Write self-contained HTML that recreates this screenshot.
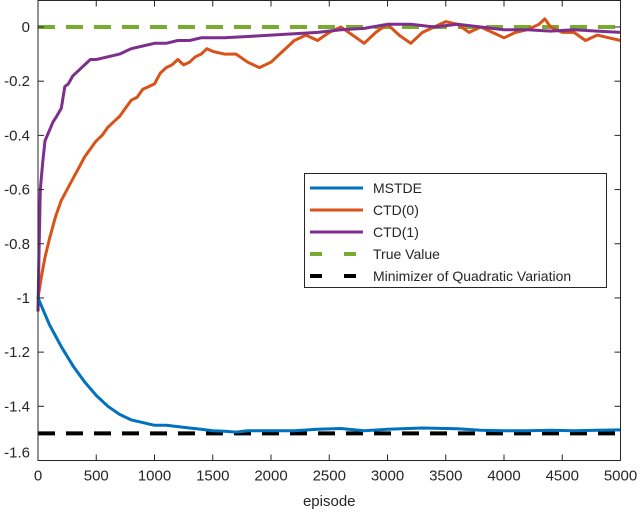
<!DOCTYPE html>
<html><head><meta charset="utf-8"><style>
body{margin:0;background:#fff;}
svg text{font-family:"Liberation Sans",sans-serif;fill:#262626;}
</style></head><body>
<svg id="chart" width="640" height="515" viewBox="0 0 640 515" xmlns="http://www.w3.org/2000/svg">
<g id="marks"></g>
<g id="axes"></g>
<g id="legend"></g>
</svg>
<script>
const xTicks=[0,500,1000,1500,2000,2500,3000,3500,4000,4500,5000];
const yTicks=[0,-0.2,-0.4,-0.6,-0.8,-1,-1.2,-1.4,-1.6];
const yTickLabels=["0","-0.2","-0.4","-0.6","-0.8","-1","-1.2","-1.4","-1.6"];
const mstdeX=[0,50,100,150,200,300,400,500,600,700,800,900,1000,1100,1200,1300,1400,1500,1600,1700,1800,2000,2200,2400,2600,2800,3000,3300,3600,3800,4000,4200,4400,4600,4800,5000];
const mstdeY=[-1.0,-1.05,-1.1,-1.14,-1.18,-1.25,-1.31,-1.36,-1.40,-1.43,-1.45,-1.46,-1.47,-1.47,-1.475,-1.48,-1.485,-1.49,-1.492,-1.495,-1.49,-1.49,-1.49,-1.485,-1.482,-1.49,-1.485,-1.48,-1.483,-1.488,-1.49,-1.49,-1.488,-1.49,-1.488,-1.487];
const ctd0X=[0,30,60,100,150,200,250,300,350,400,450,500,550,600,650,700,750,800,850,900,950,1000,1050,1100,1150,1200,1250,1300,1350,1400,1450,1500,1600,1700,1800,1900,2000,2100,2200,2300,2400,2500,2600,2700,2800,2900,3000,3100,3200,3300,3400,3500,3600,3700,3800,3900,4000,4100,4200,4300,4350,4400,4500,4600,4700,4800,4900,5000];
const ctd0Y=[-1.0,-0.92,-0.85,-0.78,-0.7,-0.64,-0.6,-0.56,-0.52,-0.48,-0.45,-0.42,-0.4,-0.37,-0.35,-0.33,-0.3,-0.27,-0.26,-0.23,-0.22,-0.21,-0.17,-0.15,-0.14,-0.12,-0.14,-0.13,-0.11,-0.1,-0.08,-0.09,-0.1,-0.1,-0.13,-0.15,-0.13,-0.09,-0.05,-0.03,-0.05,-0.02,0.0,-0.03,-0.06,-0.02,0.01,-0.03,-0.06,-0.02,0.0,0.02,0.01,-0.02,0.0,-0.02,-0.04,-0.02,-0.01,0.01,0.03,0.0,-0.02,-0.02,-0.05,-0.03,-0.04,-0.05];
const ctd1X=[0,10,20,40,60,80,100,130,160,200,230,260,300,350,400,450,500,600,700,800,900,1000,1100,1200,1300,1400,1600,1800,2000,2200,2400,2600,2800,3000,3200,3400,3600,3800,4000,4200,4400,4600,4800,5000];
const ctd1Y=[-1.05,-0.8,-0.6,-0.5,-0.42,-0.4,-0.38,-0.35,-0.33,-0.3,-0.22,-0.21,-0.18,-0.16,-0.14,-0.12,-0.12,-0.11,-0.1,-0.08,-0.07,-0.06,-0.06,-0.05,-0.05,-0.04,-0.04,-0.035,-0.03,-0.025,-0.02,-0.01,-0.005,0.01,0.01,0.0,0.01,0.0,-0.01,-0.01,-0.015,-0.01,-0.015,-0.02];
const trueValue=[0];
const minimizerValue=[-1.5];

const NS="http://www.w3.org/2000/svg";
const L=38,R=620.5,T=0.5,B=460.5;
const xs=v=>L+(v-0)/5000*(R-L);
const ys=v=>27+(0-v)/1.6*(460.5-27);
function mk(tag,attrs,parent){const e=document.createElementNS(NS,tag);for(const k in attrs)e.setAttribute(k,attrs[k]);parent.appendChild(e);return e;}
const marks=document.getElementById('marks'),axes=document.getElementById('axes'),leg=document.getElementById('legend');
function pts(X,Y){return X.map((x,i)=>xs(x).toFixed(1)+','+ys(Y[i]).toFixed(1)).join(' ');}
let e;
e=mk('line',{x1:xs(0),x2:xs(5000),y1:ys(trueValue[0]),y2:ys(trueValue[0]),stroke:'#77ac30','stroke-width':4,'stroke-dasharray':'17,11'},marks);

e=mk('line',{x1:xs(0),x2:xs(5000),y1:ys(minimizerValue[0]),y2:ys(minimizerValue[0]),stroke:'#000','stroke-width':4,'stroke-dasharray':'17,11'},marks);

e=mk('polyline',{points:pts(ctd0X,ctd0Y),fill:'none',stroke:'#d95319','stroke-width':3,'stroke-linejoin':'round'},marks);

e=mk('polyline',{points:pts(ctd1X,ctd1Y),fill:'none',stroke:'#7e2f8e','stroke-width':3,'stroke-linejoin':'round'},marks);

e=mk('polyline',{points:pts(mstdeX,mstdeY),fill:'none',stroke:'#0072bd','stroke-width':3,'stroke-linejoin':'round'},marks);

e=mk('rect',{x:L,y:T,width:R-L,height:B-T,fill:'none',stroke:'#262626','stroke-width':1},axes);

xTicks.forEach(t=>{const x=xs(t);
mk('line',{x1:x,x2:x,y1:B,y2:B-6,stroke:'#262626'},axes);mk('line',{x1:x,x2:x,y1:T,y2:T+6,stroke:'#262626'},axes);
const tx=mk('text',{x:x,y:B+20,'text-anchor':'middle','font-size':15},axes);tx.textContent=t;
});
yTicks.forEach((t,i)=>{const y=ys(t);
mk('line',{x1:L,x2:L+6,y1:y,y2:y,stroke:'#262626'},axes);mk('line',{x1:R,x2:R-6,y1:y,y2:y,stroke:'#262626'},axes);
const ty=(i===yTicks.length-1)?y-3:y+5;
const tx=mk('text',{x:L-8,y:ty,'text-anchor':'end','font-size':15},axes);tx.textContent=yTickLabels[i];
});
e=mk('text',{x:(L+R)/2,y:506,'text-anchor':'middle','font-size':15},axes);e.textContent='episode';

mk('rect',{x:304.5,y:173.5,width:302,height:114,fill:'#fff',stroke:'#262626'},leg);
const entries=[['MSTDE','#0072bd',''],['CTD(0)','#d95319',''],['CTD(1)','#7e2f8e',''],['True Value','#77ac30','12,22'],['Minimizer of Quadratic Variation','#000','12,22']];
entries.forEach((en,i)=>{const y=188+i*22;
const g=mk('g',{},leg);


const a={x1:310,x2:363,y1:y,y2:y,stroke:en[1],'stroke-width':en[2]?4:3};if(en[2])a['stroke-dasharray']=en[2];
mk('line',a,g);
const tx=mk('text',{x:373,y:y+5,'font-size':14},g);tx.textContent=en[0];});
</script>
</body></html>
